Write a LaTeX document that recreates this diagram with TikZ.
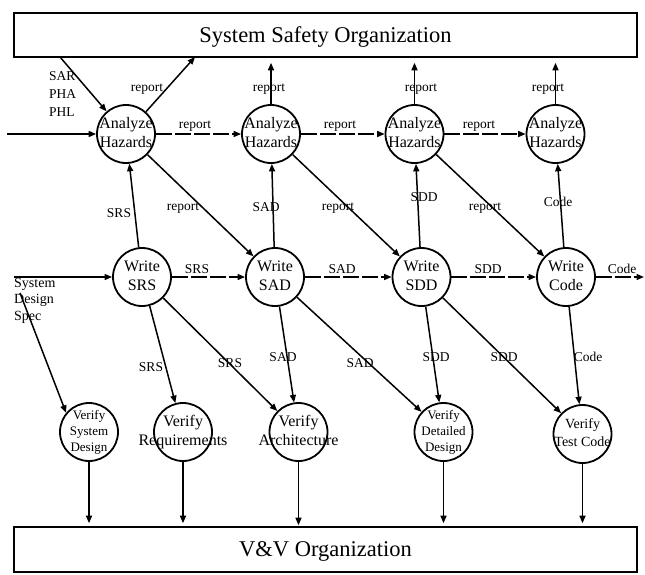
\documentclass[tikz,border=0pt]{standalone}
\usepackage{fontspec}
\setmainfont{Liberation Serif}
\usetikzlibrary{arrows.meta,calc}
\newcommand{\ctxt}[1]{\makebox[0pt]{\begin{tabular}{@{}c@{}}#1\end{tabular}}}
\begin{document}
\begin{tikzpicture}[x=1pt,y=-1pt,
  proc/.style={circle,draw,line width=1.8pt,minimum size=58pt,inner sep=0pt,font=\fontsize{16}{19.5}\selectfont},
  procs/.style={proc,font=\fontsize{13}{16}\selectfont},
  procm/.style={proc,font=\fontsize{14}{18}\selectfont},
  org/.style={draw,line width=1.6pt,minimum width=623pt,inner sep=0pt,text depth=0pt,font=\fontsize{22.5}{26}\selectfont},
  flow/.style={line width=1.5pt,-{Triangle[length=7.5pt,width=6pt]}},
  dflow/.style={flow,dash pattern=on 16pt off 3pt},
  lbl/.style={font=\fontsize{13.5}{18}\selectfont,inner sep=0pt}
]
\useasboundingbox (0,0) rectangle (645,574);

% organizations
\node[org,minimum height=44pt] (ss) at (325.5,35) {System Safety Organization};
\node[org,minimum height=45pt] (vv) at (325.5,549.5) {V\&V Organization};

% analyze hazards
\node[proc] (ah1) at (126,134) {\ctxt{Analyze\\Hazards}};
\node[proc] (ah2) at (271,134) {\ctxt{Analyze\\Hazards}};
\node[proc] (ah3) at (414.5,134) {\ctxt{Analyze\\Hazards}};
\node[proc] (ah4) at (555.5,134) {\ctxt{Analyze\\Hazards}};

% write
\node[proc] (w1) at (142,277) {\ctxt{Write\\SRS}};
\node[proc] (w2) at (275,277) {\ctxt{Write\\SAD}};
\node[proc] (w3) at (421.5,277) {\ctxt{Write\\SDD}};
\node[proc] (w4) at (566,277) {\ctxt{Write\\Code}};

% verify
\node[procs] (v1) at (89,432) {\ctxt{Verify\\System\\Design}};
\node[proc] (v2) at (183,432) {\ctxt{Verify\\Requirements}};
\node[proc] (v3) at (298.5,432) {\ctxt{Verify\\Architecture}};
\node[procs] (v4) at (443.5,432) {\ctxt{Verify\\Detailed\\Design}};
\node[procm] (v5) at (582.5,434) {\ctxt{Verify\\Test Code}};

% free ends
\coordinate (sarpt) at (60,57);
\coordinate (rep1pt) at (195,57);
\coordinate (in1) at (7,134);
\coordinate (sdsin) at (14,277);
\coordinate (sdsdiag) at (20,293);
\coordinate (codeout) at (644,277);

% labels
\node[lbl,align=left,anchor=north west] (sar) at (49,71) {SAR\\PHA\\PHL};
\node[lbl,font=\fontsize{14}{16.5}\selectfont,align=left,anchor=north west] (sds) at (14,278) {System\\Design\\Spec};
\node[lbl] (lr1) at (147,89) {report};
\node[lbl] (lr2) at (269,89) {report};
\node[lbl] (lr3) at (421,89) {report};
\node[lbl] (lr4) at (548,89) {report};
\node[lbl] (lh1) at (195,126) {report};
\node[lbl] (lh2) at (340,126) {report};
\node[lbl] (lh3) at (479,126) {report};
\node[lbl] (ld1) at (119,213) {SRS};
\node[lbl] (ld2) at (183,208) {report};
\node[lbl] (ld3) at (266,207) {SAD};
\node[lbl] (ld4) at (338,208) {report};
\node[lbl] (ld5) at (424,197) {SDD};
\node[lbl] (ld6) at (485,208) {report};
\node[lbl] (ld7) at (558,202) {Code};
\node[lbl] (lw1) at (197,269) {SRS};
\node[lbl] (lw2) at (342,269) {SAD};
\node[lbl] (lw3) at (488,269) {SDD};
\node[lbl] (lw4) at (622,269) {Code};
\node[lbl] (lv1) at (151,367) {SRS};
\node[lbl] (lv2) at (230,363) {SRS};
\node[lbl] (lv3) at (283,357) {SAD};
\node[lbl] (lv4) at (360,363) {SAD};
\node[lbl] (lv5) at (436,357) {SDD};
\node[lbl] (lv6) at (504,357) {SDD};
\node[lbl] (lv7) at (588,357) {Code};

% connectors to/from system safety
\draw[flow] (sarpt) -- (ah1);
\draw[flow] (ah1) -- (rep1pt);
\draw[flow,shorten >=5pt] (ah2) -- (ah2 |- ss.south);
\draw[flow,shorten >=5pt] (ah3) -- (ah3 |- ss.south);
\draw[flow,shorten >=5pt] (ah4) -- (ah4 |- ss.south);
\draw[flow] (in1) -- (ah1);

% analyze row
\draw[dflow] (ah1) -- (ah2);
\draw[dflow] (ah2) -- (ah3);
\draw[dflow] (ah3) -- (ah4);

% between rows
\draw[flow] (w1) -- (ah1);
\draw[flow] (ah1) -- (w2);
\draw[flow] (w2) -- (ah2);
\draw[flow] (ah2) -- (w3);
\draw[flow] (w3) -- (ah3);
\draw[flow] (ah3) -- (w4);
\draw[flow] (w4) -- (ah4);

% write row
\draw[flow] (sdsin) -- (w1);
\draw[dflow] (w1) -- (w2);
\draw[dflow] (w2) -- (w3);
\draw[dflow] (w3) -- (w4);
\draw[dflow] (w4) -- (codeout);

% to verify
\draw[flow] (sdsdiag) -- (v1.140);
\draw[flow] (w1) -- (v2);
\draw[flow] (w1) -- (v3);
\draw[flow] (w2) -- (v3);
\draw[flow] (w2) -- (v4);
\draw[flow] (w3) -- (v4);
\draw[flow] (w3) -- (v5);
\draw[flow] (w4) -- (v5);

% verify to V&V
\draw[flow,shorten >=3pt] (v1) -- (v1 |- vv.north);
\draw[flow,shorten >=3pt] (v2) -- (v2 |- vv.north);
\draw[flow,shorten >=1pt] (v3) -- (v3 |- vv.north);
\draw[flow,shorten >=3pt] (v4) -- (v4 |- vv.north);
\draw[flow,shorten >=3pt] (v5) -- (v5 |- vv.north);
\end{tikzpicture}
\end{document}
